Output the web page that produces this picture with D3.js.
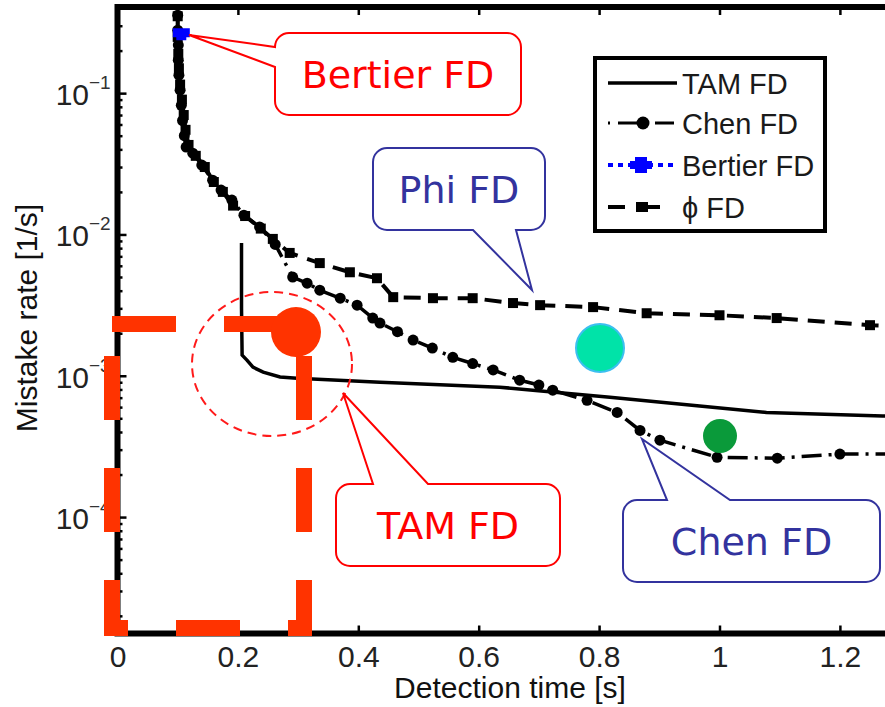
<!DOCTYPE html>
<html>
<head>
<meta charset="utf-8">
<title>Mistake rate vs detection time</title>
<script src="https://cdn.jsdelivr.net/npm/d3@7"></script>
<style>
  body { margin: 0; background: #fff; }
  svg { display: block; }
</style>
</head>
<body>
<script>
// values: detection time [s] and mistake rate [1/s]
var tamX = [0.206, 0.206, 0.207, 0.215, 0.225, 0.242, 0.270, 0.298, 0.436, 0.635, 0.818, 0.967, 1.078, 1.271, 1.300];
var tamY = [0.0087, 0.0030, 0.0014, 0.00129, 0.00115, 0.00106, 0.00098, 0.00096, 0.00090, 0.00083, 0.000705, 0.00061, 0.00055, 0.00052, 0.000514];

var chenX = [0.100, 0.100, 0.101, 0.101, 0.102, 0.104, 0.106, 0.108, 0.111, 0.114, 0.125, 0.140, 0.158, 0.172, 0.190, 0.210, 0.236, 0.262,
             0.291, 0.315, 0.336, 0.370, 0.398, 0.424, 0.436, 0.465, 0.491, 0.523, 0.557, 0.590, 0.624, 0.668, 0.700, 0.723, 0.780, 0.830, 0.868, 0.901, 0.996, 1.096, 1.200, 1.300];
var chenY = [0.356, 0.279, 0.219, 0.171, 0.134, 0.105, 0.082, 0.064, 0.050, 0.0415, 0.0376, 0.031, 0.0242, 0.0206, 0.0175, 0.0137, 0.0113, 0.0085,
             0.00499, 0.00452, 0.00403, 0.00354, 0.00316, 0.00256, 0.00236, 0.00205, 0.00179, 0.00157, 0.00135, 0.00122, 0.00110, 0.00093, 0.00086, 0.00079, 0.00067, 0.00055, 0.00041, 0.00035, 0.000265, 0.000261, 0.000279, 0.000279];

var phiX = [0.100, 0.100, 0.101, 0.102, 0.104, 0.107, 0.110, 0.113, 0.118, 0.130, 0.145, 0.160, 0.175, 0.192, 0.212, 0.238, 0.258, 0.286,
            0.336, 0.386, 0.431, 0.458, 0.524, 0.590, 0.657, 0.702, 0.790, 0.879, 1.000, 1.095, 1.250, 1.300];
var phiY = [0.350, 0.250, 0.190, 0.150, 0.115, 0.090, 0.070, 0.055, 0.043, 0.036, 0.030, 0.0235, 0.020, 0.0160, 0.0135, 0.0110, 0.0093, 0.0074,
            0.00627, 0.0054, 0.0049, 0.0036, 0.00354, 0.00354, 0.00327, 0.00316, 0.00306, 0.00277, 0.00268, 0.00256, 0.00228, 0.00224];

var bertierX = [0.106];
var bertierY = [0.268];

var xTicks = [0, 0.2, 0.4, 0.6, 0.8, 1, 1.2];
var yTicks = [1e-1, 1e-2, 1e-3, 1e-4];
var yTickExp = ["\u22121", "\u22122", "\u22123", "\u22124"];
var legendNames = ["TAM FD", "Chen FD", "Bertier FD", "\u03d5 FD"];

var width = 885, height = 707;
var plotLeft = 117.5, plotTop = 7, plotBottom = 633.5;

var svg = d3.select("body").append("svg")
  .attr("width", width)
  .attr("height", height);

var x = d3.scaleLinear().domain([0, 1.3]).range([plotLeft, plotLeft + 1.3 * 602]);
var y = d3.scaleLog().domain([1.5e-5, 0.407]).range([plotBottom, plotTop]);
var plotRight = x(1.3);

var font = "'Liberation Sans', Arial, sans-serif";
var calloutFont = "'DejaVu Sans', Verdana, sans-serif";

svg.append("clipPath").attr("id", "plot")
  .append("rect")
  .attr("x", plotLeft).attr("y", plotTop)
  .attr("width", plotRight - plotLeft).attr("height", plotBottom - plotTop);

// axes (ticks point inwards, like matlab)
var minor = [];
for (var e = -5; e <= -1; e++) {
  for (var k = 2; k <= 9; k++) {
    var v = k * Math.pow(10, e);
    if (v > 1.5e-5 && v < 0.407) minor.push(v);
  }
}

svg.append("g")
  .attr("transform", "translate(0," + plotBottom + ")")
  .call(d3.axisBottom(x).tickValues(xTicks).tickSizeInner(-8).tickSizeOuter(0).tickPadding(12)
    .tickFormat(d3.format("~g")))
  .call(function(g) {
    g.select(".domain").remove();
    g.selectAll(".tick line").attr("stroke-width", 2.5);
    g.selectAll("text").style("font-family", font).style("font-size", "30px").attr("fill", "#222");
  });

svg.append("g")
  .attr("transform", "translate(0," + plotTop + ")")
  .call(d3.axisTop(x).tickValues(xTicks).tickSizeInner(-8).tickSizeOuter(0).tickFormat(""))
  .call(function(g) {
    g.select(".domain").remove();
    g.selectAll(".tick line").attr("stroke-width", 2.5);
  });

svg.append("g")
  .attr("transform", "translate(" + plotLeft + ",0)")
  .call(d3.axisLeft(y).tickValues(minor).tickSizeInner(-5).tickSizeOuter(0).tickFormat(""))
  .call(function(g) {
    g.select(".domain").remove();
    g.selectAll(".tick line").attr("stroke-width", 2.5);
  });

var yAxis = svg.append("g")
  .attr("transform", "translate(" + plotLeft + ",0)")
  .call(d3.axisLeft(y).tickValues(yTicks).tickSizeInner(-9).tickSizeOuter(0).tickFormat(""));
yAxis.select(".domain").remove();
yAxis.selectAll(".tick line").attr("stroke-width", 2.5);

var yLab = svg.append("g").selectAll("g")
  .data(yTicks)
  .enter().append("g")
  .attr("transform", function(d) { return "translate(0," + y(d) + ")"; });
yLab.append("text")
  .attr("x", 89).attr("y", 12)
  .attr("text-anchor", "end")
  .style("font-family", font).style("font-size", "30px").attr("fill", "#222")
  .text("10");
yLab.append("text")
  .attr("x", 89).attr("y", -4)
  .style("font-family", font).style("font-size", "19px").attr("fill", "#333")
  .text(function(d, i) { return yTickExp[i]; });

// frame
svg.append("path")
  .attr("d", "M" + plotRight + "," + plotTop + "H" + plotLeft + "V" + plotBottom + "H" + plotRight)
  .attr("fill", "none")
  .attr("stroke", "#000")
  .attr("stroke-width", 6)
  .attr("stroke-linejoin", "miter");

svg.append("text")
  .attr("x", 510).attr("y", 698)
  .attr("text-anchor", "middle")
  .style("font-family", font).style("font-size", "30px").attr("fill", "#111")
  .text("Detection time [s]");

svg.append("text")
  .attr("transform", "translate(37,318) rotate(-90)")
  .attr("text-anchor", "middle")
  .style("font-family", font).style("font-size", "30px").attr("fill", "#111")
  .text("Mistake rate [1/s]");

// curves
var line = d3.line()
  .x(function(d) { return x(d[0]); })
  .y(function(d) { return y(d[1]); });

var tam = d3.zip(tamX, tamY);
var chen = d3.zip(chenX, chenY);
var phi = d3.zip(phiX, phiY);
var bertier = d3.zip(bertierX, bertierY);

var plot = svg.append("g").attr("clip-path", "url(#plot)");

plot.append("path").datum(phi)
  .attr("d", line).attr("fill", "none")
  .attr("stroke", "#000").attr("stroke-width", 4)
  .attr("stroke-dasharray", "17 10");
plot.selectAll(".phi").data(phi).enter().append("rect")
  .attr("class", "phi")
  .attr("x", function(d) { return x(d[0]) - 5; })
  .attr("y", function(d) { return y(d[1]) - 5; })
  .attr("width", 10).attr("height", 10)
  .attr("fill", "#000");

plot.append("path").datum(chen)
  .attr("d", line).attr("fill", "none")
  .attr("stroke", "#000").attr("stroke-width", 3.5)
  .attr("stroke-dasharray", "20 7 3 7");
plot.selectAll(".chen").data(chen).enter().append("circle")
  .attr("class", "chen")
  .attr("cx", function(d) { return x(d[0]); })
  .attr("cy", function(d) { return y(d[1]); })
  .attr("r", 5.5)
  .attr("fill", "#000");

plot.append("path").datum(tam)
  .attr("d", line).attr("fill", "none")
  .attr("stroke", "#000").attr("stroke-width", 3.5);

plot.selectAll(".bertier").data(bertier).enter().append("path")
  .attr("class", "bertier")
  .attr("transform", function(d) { return "translate(" + x(d[0]) + "," + y(d[1]) + ")"; })
  .attr("d", "M-8.5,-4.5H8.5V4.5H5V7.5H-5V4.5H-8.5Z")
  .attr("fill", "#0000ff");

// legend
var legend = svg.append("g").attr("transform", "translate(595,58)");
legend.append("rect")
  .attr("width", 230).attr("height", 173)
  .attr("fill", "#fff").attr("stroke", "#000").attr("stroke-width", 4);

var rows = [25, 65, 107, 149];
var entry = legend.selectAll(".entry").data(legendNames).enter().append("g")
  .attr("class", "entry")
  .attr("transform", function(d, i) { return "translate(0," + rows[i] + ")"; });
entry.append("text")
  .attr("x", 87).attr("y", 11)
  .style("font-family", font).style("font-size", "29px").attr("fill", "#1a1a1a")
  .text(function(d) { return d; });

var e0 = d3.select(entry.nodes()[0]);
e0.append("line").attr("x1", 13).attr("x2", 82).attr("stroke", "#000").attr("stroke-width", 3.5);

var e1 = d3.select(entry.nodes()[1]);
e1.append("line").attr("x1", 13).attr("x2", 82).attr("stroke", "#000").attr("stroke-width", 3)
  .attr("stroke-dasharray", "2 8 19 8");
e1.append("circle").attr("cx", 48).attr("r", 6.5).attr("fill", "#000");

var e2 = d3.select(entry.nodes()[2]);
e2.append("line").attr("x1", 13).attr("x2", 82).attr("stroke", "#0000ff").attr("stroke-width", 4)
  .attr("stroke-dasharray", "5 5");
e2.append("path").attr("transform", "translate(46,0)")
  .attr("d", "M-11,-4H11V4H6V8H-6V4H-11Z M-6,-4V-8H6V-4Z")
  .attr("fill", "#0000ff");

var e3 = d3.select(entry.nodes()[3]);
e3.append("line").attr("x1", 13).attr("x2", 82).attr("stroke", "#000").attr("stroke-width", 4)
  .attr("stroke-dasharray", "17 18");
e3.append("rect").attr("x", 41).attr("y", -5).attr("width", 12).attr("height", 10).attr("fill", "#000");

// highlight shapes drawn over the plot
svg.append("rect")
  .attr("x", 112).attr("y", 324).attr("width", 192).attr("height", 304)
  .attr("fill", "none").attr("stroke", "#ff3300").attr("stroke-width", 16)
  .attr("stroke-dasharray", "64 48");
svg.append("circle").attr("cx", 296).attr("cy", 332).attr("r", 25).attr("fill", "#ff3300");

svg.append("ellipse")
  .attr("cx", 272).attr("cy", 364).attr("rx", 80).attr("ry", 72)
  .attr("fill", "none").attr("stroke", "#ff1a1a").attr("stroke-width", 2)
  .attr("stroke-dasharray", "9 6");

svg.append("circle").attr("cx", 600).attr("cy", 348).attr("r", 24)
  .attr("fill", "#00e3a8").attr("stroke", "#3cbff0").attr("stroke-width", 2);
svg.append("circle").attr("cx", 720).attr("cy", 436).attr("r", 17).attr("fill", "#0a9a3a");

// speech-bubble callouts
var callouts = [
  {text: "Bertier FD", color: "#ff0000", x: 275, y: 33, w: 246, h: 82, side: "left", b: [47, 67], tip: [189, 35]},
  {text: "Phi FD", color: "#33339e", x: 373, y: 148, w: 172, h: 82, side: "bottom", b: [473, 516], tip: [532, 290]},
  {text: "TAM FD", color: "#ff0000", x: 336, y: 484, w: 224, h: 82, side: "top", b: [373, 428], tip: [343, 393]},
  {text: "Chen FD", color: "#33339e", x: 623, y: 500, w: 257, h: 82, side: "top", b: [667, 730], tip: [642, 439]}
];

function bubble(c) {
  var p = d3.path(), r = 14;
  var x0 = c.x, y0 = c.y, x1 = c.x + c.w, y1 = c.y + c.h;
  p.moveTo(x0 + r, y0);
  if (c.side === "top") { p.lineTo(c.b[0], y0); p.lineTo(c.tip[0], c.tip[1]); p.lineTo(c.b[1], y0); }
  p.lineTo(x1 - r, y0);
  p.arcTo(x1, y0, x1, y0 + r, r);
  p.lineTo(x1, y1 - r);
  p.arcTo(x1, y1, x1 - r, y1, r);
  if (c.side === "bottom") { p.lineTo(c.b[1], y1); p.lineTo(c.tip[0], c.tip[1]); p.lineTo(c.b[0], y1); }
  p.lineTo(x0 + r, y1);
  p.arcTo(x0, y1, x0, y1 - r, r);
  if (c.side === "left") { p.lineTo(x0, c.b[1]); p.lineTo(c.tip[0], c.tip[1]); p.lineTo(x0, c.b[0]); }
  p.lineTo(x0, y0 + r);
  p.arcTo(x0, y0, x0 + r, y0, r);
  p.closePath();
  return p.toString();
}

var co = svg.selectAll(".callout").data(callouts).enter().append("g").attr("class", "callout");
co.append("path")
  .attr("d", bubble)
  .attr("fill", "#fff")
  .attr("stroke", function(d) { return d.color; })
  .attr("stroke-width", 2);
co.append("text")
  .attr("x", function(d) { return d.x + d.w / 2; })
  .attr("y", function(d) { return d.y + 55; })
  .attr("text-anchor", "middle")
  .style("font-family", calloutFont).style("font-size", "38px")
  .attr("fill", function(d) { return d.color; })
  .text(function(d) { return d.text; });
</script>
</body>
</html>
